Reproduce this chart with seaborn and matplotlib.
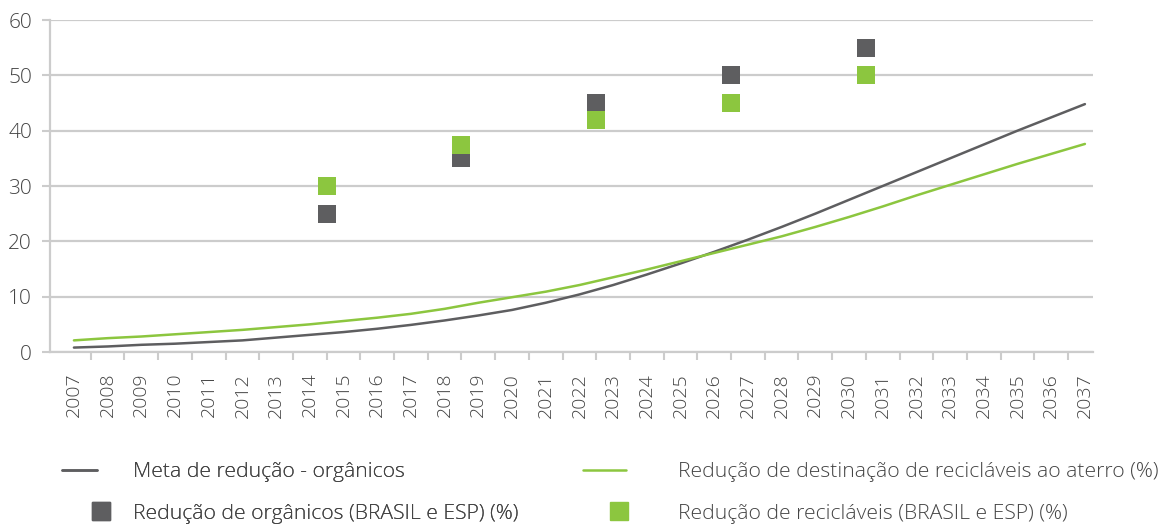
import numpy as np
import pandas as pd
import matplotlib
matplotlib.use("Agg")
import matplotlib.pyplot as plt
from matplotlib.lines import Line2D
from matplotlib.legend_handler import HandlerLine2D
import seaborn as sns

# Anos do horizonte de planejamento
anos = list(range(2007, 2038))

# Meta de redução - orgânicos (%)
meta_organicos = [0.8, 1.0, 1.3, 1.5, 1.8, 2.1, 2.6, 3.1, 3.6, 4.2,
                  4.9, 5.7, 6.6, 7.6, 8.9, 10.4, 12.1, 14.0, 16.0, 18.1,
                  20.3, 22.6, 25.0, 27.5, 30.0, 32.5, 35.0, 37.5, 40.0, 42.4,
                  44.8]

# Redução de destinação de recicláveis ao aterro (%)
meta_reciclaveis = [2.1, 2.5, 2.8, 3.2, 3.6, 4.0, 4.5, 5.0, 5.6, 6.2,
                    6.9, 7.8, 8.9, 9.9, 10.9, 12.1, 13.5, 14.9, 16.4, 17.9,
                    19.4, 20.9, 22.6, 24.4, 26.3, 28.3, 30.2, 32.1, 34.0, 35.8,
                    37.6]

# Metas quadrienais (BRASIL e ESP), marcadas entre os anos de virada
anos_metas = [2014.5, 2018.5, 2022.5, 2026.5, 2030.5]
reducao_organicos = [25, 35, 45, 50, 55]
reducao_reciclaveis = [30, 37.5, 42, 45, 50]

CINZA = "#5e5e60"
VERDE = "#8cc63f"
GRADE = "#cccccc"
TEXTO = "#444444"

sns.set_theme(style="white")
plt.rcParams["font.family"] = ["Open Sans", "DejaVu Sans"]
plt.rcParams["font.weight"] = "light"

fig = plt.figure(figsize=(11.63, 5.27), dpi=100)
ax = fig.add_axes([50 / 1163, 1 - 352 / 527, (1093 - 50) / 1163, (352 - 20) / 527])

linhas = pd.DataFrame({"ano": anos, "org": meta_organicos, "rec": meta_reciclaveis})
metas = pd.DataFrame({"ano": anos_metas, "org": reducao_organicos, "rec": reducao_reciclaveis})

sns.lineplot(data=linhas, x="ano", y="org", ax=ax, color=CINZA, linewidth=1.8, zorder=3)
sns.lineplot(data=linhas, x="ano", y="rec", ax=ax, color=VERDE, linewidth=1.8, zorder=3)
sns.scatterplot(data=metas, x="ano", y="org", ax=ax, color=CINZA, marker="s",
                s=185, linewidth=0, zorder=4)
sns.scatterplot(data=metas, x="ano", y="rec", ax=ax, color=VERDE, marker="s",
                s=185, linewidth=0, zorder=5)

ax.set_xlim(2006.29, 2037.24)
ax.set_ylim(0, 60)
ax.set_xlabel("")
ax.set_ylabel("")

ax.set_yticks(range(0, 61, 10))
ax.yaxis.grid(True, color=GRADE, linewidth=1.6)
ax.set_axisbelow(True)
ax.tick_params(axis="y", which="major", left=True, length=6, width=1.5, color=GRADE,
               pad=7, labelsize=15, labelcolor=TEXTO)

ax.set_xticks(anos)
ax.set_xticklabels([str(a) for a in anos], rotation=90)
ax.set_xticks(np.arange(2007.5, 2037, 1.0), minor=True)
ax.tick_params(axis="x", which="major", bottom=True, length=0, pad=15,
               labelsize=14, labelcolor=TEXTO)
ax.tick_params(axis="x", which="minor", bottom=True, length=6, width=1.5, color=GRADE)

for lado in ["top", "right"]:
    ax.spines[lado].set_visible(False)
for lado in ["left", "bottom"]:
    ax.spines[lado].set_color(GRADE)
    ax.spines[lado].set_linewidth(1.6)

for rotulo in ax.get_xticklabels() + ax.get_yticklabels():
    rotulo.set_fontweight("light")

FS_LEG = 15.2
estilo_leg = dict(frameon=False, loc="upper left", fontsize=FS_LEG,
                  labelspacing=1.03, borderaxespad=0, borderpad=0, labelcolor=TEXTO)

quad_cinza = Line2D([], [], color=CINZA, marker="s", markersize=12.5, linestyle="none")
quad_verde = Line2D([], [], color=VERDE, marker="s", markersize=12.5, linestyle="none")

leg1 = fig.legend(
    handles=[Line2D([], [], color=CINZA, linewidth=1.8), quad_cinza],
    labels=["Meta de redução - orgânicos", "Redução de orgânicos (BRASIL e ESP) (%)"],
    bbox_to_anchor=(62 / 1163, 1 - 462 / 527), handlelength=1.67, handletextpad=1.71,
    handler_map={quad_cinza: HandlerLine2D(xpad=2.05)}, **estilo_leg)
fig.add_artist(leg1)

fig.legend(
    handles=[Line2D([], [], color=VERDE, linewidth=1.8), quad_verde],
    labels=["Redução de destinação de recicláveis ao aterro (%)",
            "Redução de recicláveis (BRASIL e ESP) (%)"],
    bbox_to_anchor=(583 / 1163, 1 - 462 / 527), handlelength=2.05, handletextpad=2.43,
    handler_map={quad_verde: HandlerLine2D(xpad=1.33)}, **estilo_leg)

fig.savefig("out.png", dpi=100)
